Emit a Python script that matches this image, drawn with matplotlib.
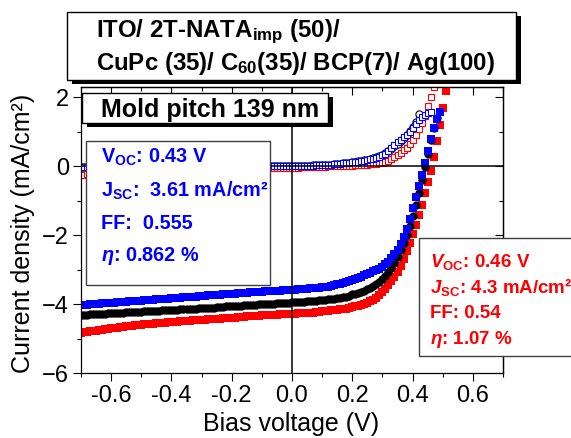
import numpy as np
import matplotlib.pyplot as plt
from matplotlib.patches import Rectangle
from matplotlib.ticker import MultipleLocator

plt.rcParams['font.family'] = ['Liberation Sans', 'DejaVu Sans']
plt.rcParams['mathtext.fontset'] = 'custom'
plt.rcParams['mathtext.rm'] = 'Liberation Sans'
plt.rcParams['mathtext.it'] = 'Liberation Sans:italic'
plt.rcParams['mathtext.bf'] = 'Liberation Sans:bold'
plt.rcParams['mathtext.bfit'] = 'Liberation Sans:bold:italic'

# bias sweep, 10 mV steps from -0.70 V
bias = np.round(np.arange(-70, 52) / 100, 2)

# illuminated J-V (mA/cm2), one row per 0.1 V
j_light_blue = [
    -4.03, -4.02, -4.02, -4.01, -4.00, -4.00, -3.99, -3.98, -3.98, -3.97,
    -3.96, -3.96, -3.95, -3.94, -3.94, -3.93, -3.92, -3.92, -3.91, -3.90,
    -3.90, -3.89, -3.88, -3.88, -3.87, -3.86, -3.86, -3.85, -3.84, -3.84,
    -3.83, -3.82, -3.82, -3.81, -3.80, -3.80, -3.79, -3.78, -3.78, -3.77,
    -3.76, -3.76, -3.75, -3.75, -3.74, -3.73, -3.73, -3.72, -3.71, -3.71,
    -3.70, -3.70, -3.69, -3.68, -3.68, -3.67, -3.66, -3.66, -3.65, -3.64,
    -3.64, -3.63, -3.63, -3.62, -3.62, -3.61, -3.61, -3.60, -3.60, -3.59,
    -3.59, -3.58, -3.57, -3.57, -3.56, -3.55, -3.54, -3.53, -3.53, -3.52,
    -3.51, -3.50, -3.49, -3.47, -3.45, -3.43, -3.41, -3.39, -3.36, -3.33,
    -3.30, -3.27, -3.24, -3.21, -3.17, -3.13, -3.09, -3.05, -3.01, -2.97,
    -2.91, -2.84, -2.77, -2.67, -2.56, -2.42, -2.25, -2.05, -1.81, -1.53,
    -1.22, -0.90, -0.58, -0.25, 0.09, 0.44, 0.79, 1.10, 1.36, 1.56,
]
j_light_black = [
    -4.32, -4.31, -4.31, -4.30, -4.30, -4.29, -4.29, -4.28, -4.28, -4.27,
    -4.27, -4.26, -4.26, -4.25, -4.25, -4.24, -4.24, -4.23, -4.23, -4.22,
    -4.22, -4.21, -4.21, -4.20, -4.20, -4.19, -4.19, -4.18, -4.18, -4.17,
    -4.17, -4.16, -4.16, -4.15, -4.15, -4.14, -4.14, -4.13, -4.13, -4.12,
    -4.12, -4.11, -4.11, -4.10, -4.10, -4.09, -4.08, -4.08, -4.07, -4.07,
    -4.06, -4.06, -4.05, -4.05, -4.04, -4.03, -4.03, -4.02, -4.02, -4.01,
    -4.01, -4.00, -4.00, -3.99, -3.99, -3.98, -3.97, -3.97, -3.96, -3.96,
    -3.95, -3.95, -3.94, -3.93, -3.93, -3.92, -3.91, -3.91, -3.90, -3.89,
    -3.88, -3.87, -3.86, -3.85, -3.84, -3.83, -3.81, -3.80, -3.78, -3.76,
    -3.72, -3.70, -3.67, -3.64, -3.61, -3.57, -3.53, -3.48, -3.43, -3.36,
    -3.28, -3.18, -3.07, -2.94, -2.80, -2.63, -2.44, -2.23, -2.00, -1.74,
    -1.45, -1.13, -0.78, -0.41, -0.03, 0.36, 0.75, 1.10, 1.40,
]
j_light_red = [
    -4.84, -4.82, -4.81, -4.79, -4.78, -4.77, -4.75, -4.74, -4.73, -4.72,
    -4.70, -4.69, -4.68, -4.67, -4.66, -4.65, -4.64, -4.63, -4.62, -4.61,
    -4.60, -4.59, -4.58, -4.58, -4.57, -4.56, -4.55, -4.54, -4.54, -4.53,
    -4.52, -4.51, -4.51, -4.50, -4.49, -4.49, -4.48, -4.47, -4.47, -4.46,
    -4.45, -4.45, -4.44, -4.43, -4.43, -4.42, -4.42, -4.41, -4.40, -4.40,
    -4.39, -4.39, -4.38, -4.37, -4.37, -4.36, -4.36, -4.35, -4.35, -4.34,
    -4.33, -4.33, -4.32, -4.32, -4.31, -4.31, -4.30, -4.30, -4.29, -4.29,
    -4.28, -4.28, -4.27, -4.27, -4.26, -4.26, -4.25, -4.25, -4.24, -4.23,
    -4.21, -4.20, -4.19, -4.18, -4.17, -4.16, -4.15, -4.14, -4.13, -4.11,
    -4.09, -4.07, -4.05, -4.02, -3.99, -3.96, -3.92, -3.87, -3.81, -3.73,
    -3.64, -3.55, -3.45, -3.33, -3.20, -3.06, -2.89, -2.69, -2.47, -2.23,
    -1.97, -1.70, -1.42, -1.11, -0.79, -0.47, -0.13, 0.26, 0.72, 1.20,
    1.69, 2.18,
]

# dark J-V (mA/cm2)
j_dark_blue = [
    -0.03, -0.03, -0.03, -0.03, -0.02, -0.02, -0.02, -0.02, -0.02, -0.02,
    -0.02, -0.02, -0.02, -0.01, -0.01, -0.01, -0.01, -0.01, -0.01, -0.01,
    -0.01, -0.01, -0.01, -0.01, -0.01, -0.01, -0.01, -0.01, -0.01, -0.01,
    -0.01, -0.01, -0.01, -0.01, -0.01, 0.00, 0.00, 0.00, 0.00, 0.00,
    0.00, 0.00, 0.00, 0.00, 0.00, 0.00, 0.00, 0.00, 0.00, 0.00,
    0.00, 0.00, 0.00, 0.00, 0.00, 0.00, 0.00, 0.00, 0.00, 0.00,
    0.00, 0.00, 0.00, 0.00, 0.00, 0.00, 0.01, 0.01, 0.01, 0.01,
    0.01, 0.01, 0.01, 0.01, 0.02, 0.02, 0.02, 0.02, 0.03, 0.03,
    0.04, 0.04, 0.05, 0.05, 0.06, 0.06, 0.07, 0.08, 0.09, 0.10,
    0.11, 0.12, 0.13, 0.15, 0.16, 0.18, 0.20, 0.22, 0.25, 0.28,
    0.32, 0.37, 0.44, 0.52, 0.61, 0.70, 0.77, 0.85, 0.92, 1.00,
    1.10, 1.22, 1.33, 1.42, 1.49, 1.54, 1.58,
]
j_dark_black = [
    -0.02, -0.02, -0.02, -0.02, -0.02, -0.01, -0.01, -0.01, -0.01, -0.01,
    -0.01, -0.01, -0.01, -0.01, -0.01, -0.01, -0.01, -0.01, -0.01, -0.01,
    -0.01, -0.01, -0.01, -0.01, -0.01, 0.00, 0.00, 0.00, 0.00, 0.00,
    0.00, 0.00, 0.00, 0.00, 0.00, 0.00, 0.00, 0.00, 0.00, 0.00,
    0.00, 0.00, 0.00, 0.00, 0.00, 0.00, 0.00, 0.00, 0.00, 0.00,
    0.00, 0.00, 0.00, 0.00, 0.00, 0.00, 0.00, 0.00, 0.00, 0.00,
    0.00, 0.00, 0.00, 0.00, 0.00, 0.01, 0.01, 0.01, 0.01, 0.01,
    0.01, 0.01, 0.01, 0.01, 0.02, 0.02, 0.02, 0.03, 0.03, 0.03,
    0.04, 0.04, 0.05, 0.05, 0.06, 0.07, 0.07, 0.08, 0.09, 0.10,
    0.11, 0.12, 0.14, 0.15, 0.17, 0.19, 0.21, 0.23, 0.26, 0.29,
    0.33, 0.38, 0.44, 0.51, 0.58, 0.66, 0.74, 0.82, 0.91, 1.01,
    1.13, 1.29, 1.53,
]
j_dark_red = [
    -0.26, -0.24, -0.22, -0.21, -0.19, -0.18, -0.17, -0.16, -0.15, -0.14,
    -0.14, -0.13, -0.12, -0.12, -0.11, -0.11, -0.10, -0.10, -0.10, -0.09,
    -0.09, -0.09, -0.08, -0.08, -0.08, -0.08, -0.07, -0.07, -0.07, -0.07,
    -0.07, -0.06, -0.06, -0.06, -0.06, -0.06, -0.06, -0.06, -0.06, -0.06,
    -0.06, -0.06, -0.06, -0.05, -0.05, -0.05, -0.05, -0.05, -0.05, -0.05,
    -0.05, -0.05, -0.05, -0.05, -0.05, -0.05, -0.05, -0.05, -0.05, -0.05,
    -0.05, -0.05, -0.04, -0.04, -0.04, -0.04, -0.04, -0.04, -0.04, -0.04,
    -0.04, -0.04, -0.04, -0.03, -0.03, -0.03, -0.03, -0.02, -0.02, -0.02,
    -0.01, -0.01, 0.00, 0.00, 0.00, 0.01, 0.01, 0.01, 0.02, 0.02,
    0.02, 0.03, 0.03, 0.04, 0.04, 0.05, 0.06, 0.06, 0.07, 0.08,
    0.10, 0.12, 0.15, 0.20, 0.26, 0.32, 0.39, 0.46, 0.54, 0.64,
    0.77, 0.92, 1.07, 1.25, 1.47, 1.75, 2.02, 2.30,
]

x_ticks = [-0.6, -0.4, -0.2, 0.0, 0.2, 0.4, 0.6]
y_ticks = [-6, -4, -2, 0, 2]

W, H = 571, 438
fig = plt.figure(figsize=(W / 100, H / 100), dpi=100)
ax = fig.add_axes([81 / W, 65 / H, 422 / W, 286 / H])

ms = 5.6
ax.plot(bias[:len(j_light_red)], j_light_red, 's', color='red', ms=ms, mew=0, zorder=2)
ax.plot(bias[:len(j_light_black)], j_light_black, 'o', color='black', ms=ms + 0.4, mew=0, zorder=2)
ax.plot(bias[:len(j_light_blue)], j_light_blue, 's', color='blue', ms=ms, mew=0, zorder=2)
ax.plot(bias[:len(j_dark_black)], j_dark_black, 'o', mfc='white', mec='black', ms=5.2, mew=0.8, zorder=2)
ax.plot(bias[:len(j_dark_red)], j_dark_red, 's', mfc='white', mec='red', ms=4.9, mew=0.8, zorder=2)
ax.plot(bias[:len(j_dark_blue)], j_dark_blue, 's', mfc='white', mec='blue', ms=4.9, mew=0.8, zorder=2)

ax.axhline(0, color='black', lw=1.1, zorder=4)
ax.axvline(0, color='black', lw=1.1, zorder=4)

ax.set_xlim(-0.7, 0.7)
ax.set_ylim(-6, 2.3)
ax.set_xticks(x_ticks)
ax.set_xticklabels(['%.1f' % v for v in x_ticks])
ax.set_yticks(y_ticks)
ax.xaxis.set_minor_locator(MultipleLocator(0.1))
ax.yaxis.set_minor_locator(MultipleLocator(1))
ax.tick_params(which='both', direction='out', labelsize=17, width=0.8, pad=3)
ax.tick_params(which='major', length=5.5)
ax.tick_params(which='minor', length=3)
for s in ax.spines.values():
    s.set_linewidth(0.9)

# inward ticks on the top and right frame
for side in ('top', 'right'):
    sec = ax.secondary_xaxis('top') if side == 'top' else ax.secondary_yaxis('right')
    axis = sec.xaxis if side == 'top' else sec.yaxis
    axis.set_major_locator(MultipleLocator(0.2 if side == 'top' else 2))
    axis.set_minor_locator(MultipleLocator(0.1 if side == 'top' else 1))
    sec.tick_params(which='both', direction='in', width=0.8, labelleft=False,
                    labelright=False, labeltop=False, labelbottom=False)
    sec.tick_params(which='major', length=5.5)
    sec.tick_params(which='minor', length=3)
    sec.spines[side].set_linewidth(0.9)

fig.text(291.5 / W, 1 - 431 / H, 'Bias voltage (V)', fontsize=18, ha='center', va='baseline')
fig.text(23 / W, 1 - 233 / H, 'Current density (mA/cm²)', fontsize=18,
         rotation=90, ha='center', va='center')


def box(x0, y0, x1, y1, shadow=0, ec='black', lw=1.0):
    if shadow:
        fig.add_artist(Rectangle(((x0 + shadow) / W, 1 - (y1 + shadow * 0.8) / H),
                                 (x1 - x0) / W, (y1 - y0) / H, transform=fig.transFigure,
                                 fc='black', ec='none', zorder=5))
    fig.add_artist(Rectangle((x0 / W, 1 - y1 / H), (x1 - x0) / W, (y1 - y0) / H,
                             transform=fig.transFigure, fc='white', ec=ec, lw=lw, zorder=6))


def label(x, y, s, **kw):
    fig.text(x / W, 1 - y / H, s, ha='left', va='baseline', fontweight='bold', zorder=7, **kw)


# device stack
box(67, 12, 516, 80, shadow=5)
label(96, 37.5, r'ITO/ 2T-NATA$_{\mathbf{imp}}$ (50)/', fontsize=17.3)
label(96, 70, r'CuPc (35)/ C$_{\mathbf{60}}$(35)/ BCP(7)/ Ag(100)', fontsize=17.3)

box(82, 93, 328, 123, shadow=5)
label(101, 117, 'Mold pitch 139 nm', fontsize=18)

# blue device parameters
box(86, 141, 270, 285, ec='#404040')
label(101, 163, r'V$_{\mathbf{OC}}$: 0.43 V', fontsize=14.3, color='blue')
label(101, 197, r'J$_{\mathbf{SC}}$:  3.61 mA/cm²', fontsize=14.3, color='blue')
label(101, 229, 'FF:  0.555', fontsize=14.3, color='blue')
label(101, 261, r'$\mathbfit{\eta}$: 0.862 %', fontsize=14.3, color='blue')

# red device parameters
box(419, 238, 573, 356, ec='#404040')
label(430, 266.5, r'$\mathbfit{V}_{\mathbf{OC}}$: 0.46 V', fontsize=13.5, color='red')
label(430, 293, r'$\mathbfit{J}_{\mathbf{SC}}$: 4.3 mA/cm²', fontsize=13.5, color='red')
label(430, 318.5, 'FF: 0.54', fontsize=13.5, color='red')
label(430, 343.5, r'$\mathbfit{\eta}$: 1.07 %', fontsize=13.5, color='red')

fig.savefig('out.png', dpi=100)
